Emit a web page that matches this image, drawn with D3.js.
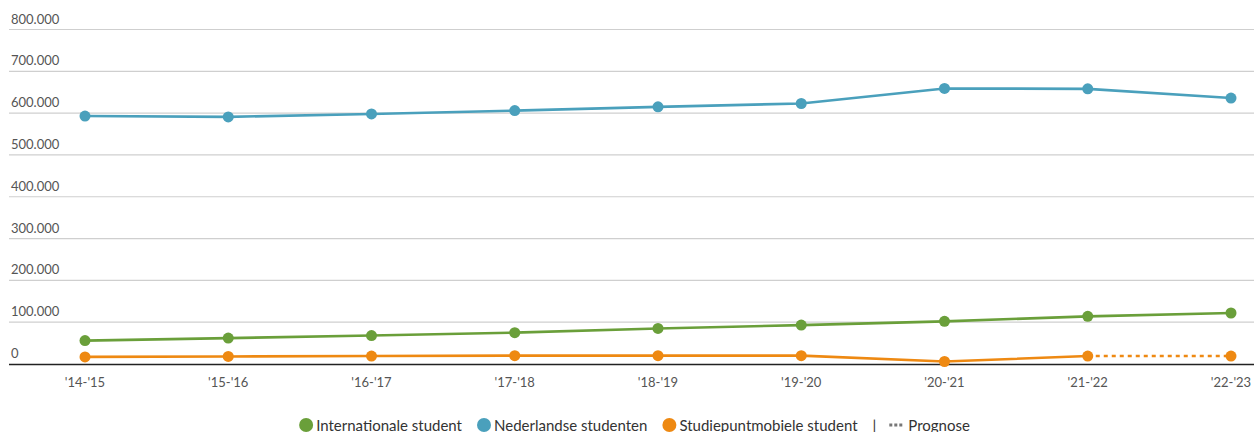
<!DOCTYPE html>
<html><head><meta charset="utf-8">
<script src="https://cdn.jsdelivr.net/npm/d3@7"></script>
<style>
body{margin:0;background:#fff;}
text{font-family:"Source Sans Pro","Lato","Noto Sans",sans-serif;}
</style></head>
<body><svg id="c" width="1254" height="432"></svg>
<script>
const categories = ["'14-'15","'15-'16","'16-'17","'17-'18","'18-'19","'19-'20","'20-'21","'21-'22","'22-'23"];
const internationaal = [56000,62000,68000,75000,85000,93000,102000,114000,122000];
const nederlands = [593000,591000,598000,606000,615000,623000,659000,658000,636000];
const studiepunt = [17000,18000,19000,20000,20000,20000,6000,19000,19000];
const prognoseFrom = 7; // index where forecast starts (dotted)
const yTicks = [0,100000,200000,300000,400000,500000,600000,700000,800000];
const seriesNames = ["Internationale student","Nederlandse studenten","Studiepuntmobiele student"];
const colors = ["#6a9f3a","#4aa0bc","#ee8912"];

const svg = d3.select("#c");
const x = d3.scalePoint().domain(categories).range([85,1231]);
const y = d3.scaleLinear().domain([0,800000]).range([364,29.5]);
const fmt = d => d3.format(",")(d).replace(/,/g,".");

// grid
const g = svg.append("g");
g.selectAll("line.grid").data(yTicks.filter(d=>d>0)).enter().append("line")
 .attr("x1",9).attr("x2",1254).attr("y1",d=>y(d)).attr("y2",d=>y(d))
 .attr("stroke","#cfcfcf").attr("stroke-width",1.2);
g.selectAll("text.yl").data(yTicks).enter().append("text")
 .attr("x",11).attr("y",d=>y(d)-6).text(fmt)
 .attr("font-size",13).attr("fill","#555");
// axis
svg.append("line").attr("x1",9).attr("x2",1254).attr("y1",364.5).attr("y2",364.5)
 .attr("stroke","#222").attr("stroke-width",1.5);
svg.selectAll("text.xl").data(categories).enter().append("text")
 .attr("x",d=>x(d)).attr("y",387).attr("text-anchor","middle")
 .attr("font-size",13).attr("fill","#555").text(d=>d);

function drawSeries(vals,color,dashFrom){
  const idx = vals.map((v,i)=>i);
  const solidIdx = dashFrom==null?idx:idx.filter(i=>i<=dashFrom);
  const l = d3.line().x(i=>x(categories[i])).y(i=>y(vals[i]));
  svg.append("path").attr("d",l(solidIdx)).attr("fill","none").attr("stroke",color).attr("stroke-width",2.6);
  if(dashFrom!=null){
    const dIdx = idx.filter(i=>i>=dashFrom);
    svg.append("path").attr("d",l(dIdx)).attr("fill","none").attr("stroke",color)
      .attr("stroke-width",2.6).attr("stroke-dasharray","4,4");
  }
  svg.selectAll(null).data(idx).enter().append("circle")
   .attr("cx",i=>x(categories[i])).attr("cy",i=>y(vals[i])).attr("r",5.5).attr("fill",color);
}
drawSeries(internationaal,colors[0],null);
drawSeries(nederlands,colors[1],null);
drawSeries(studiepunt,colors[2],prognoseFrom);

// legend
const lg = svg.append("g");
let cx = 0;
seriesNames.forEach((n,i)=>{
  const it = lg.append("g").attr("transform",`translate(${cx},0)`);
  it.append("circle").attr("cx",7).attr("cy",0).attr("r",7).attr("fill",colors[i]);
  const t = it.append("text").attr("x",17).attr("y",5.5).attr("font-size",15).attr("fill","#333").text(n);
  cx += 17 + t.node().getComputedTextLength() + 15;
});
const sep = lg.append("text").attr("x",cx).attr("y",5.5).attr("font-size",15).attr("fill","#333").text("|");
cx += sep.node().getComputedTextLength() + 13;
lg.append("line").attr("x1",cx).attr("x2",cx+13).attr("y1",0).attr("y2",0)
  .attr("stroke","#777").attr("stroke-width",3).attr("stroke-dasharray","3,2");
cx += 19;
const pt = lg.append("text").attr("x",cx).attr("y",5.5).attr("font-size",15).attr("fill","#333").text("Prognose");
cx += pt.node().getComputedTextLength();
lg.attr("transform",`translate(${634.5-cx/2},425)`);
</script></body></html>
